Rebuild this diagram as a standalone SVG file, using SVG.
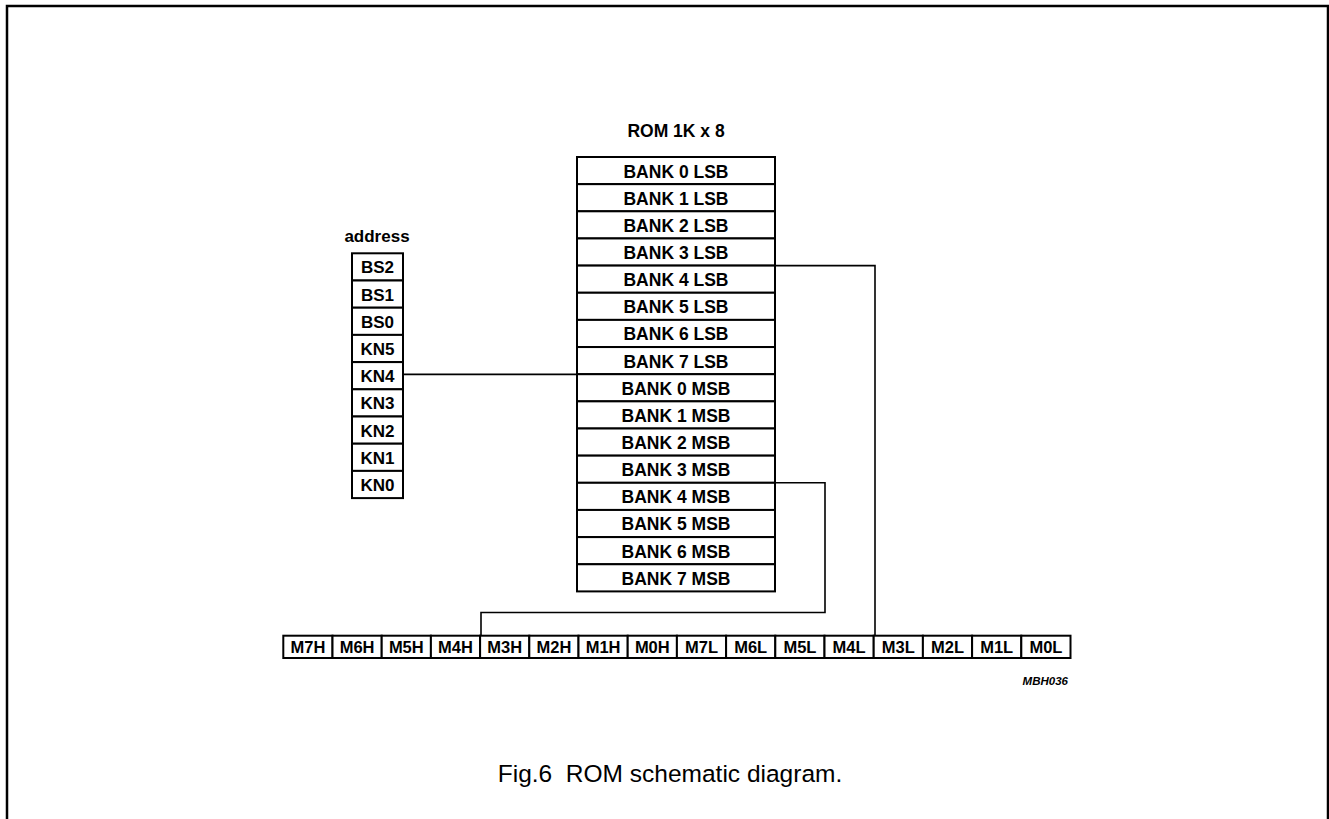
<svg xmlns="http://www.w3.org/2000/svg" width="1329" height="819" viewBox="0 0 1329 819">
<style>
.box{fill:#fff;stroke:#000;stroke-width:2}
.t{font-family:"Liberation Sans",Arial,sans-serif;font-weight:bold;fill:#000;text-anchor:middle}
.rom{font-size:17.5px}
.adr{font-size:17px}
.bit{font-size:16.5px}
.wire{fill:none;stroke:#000;stroke-width:1.6}
</style>
<rect x="7" y="6" width="1321" height="830" fill="#fff" stroke="#000" stroke-width="2.5"/>

<text class="t rom" x="676" y="137">ROM 1K x 8</text>
<g id="rom">
<g id="bank0lsb"><rect class="box" x="577" y="157" width="198" height="27.15"/><text class="t rom" x="676" y="177.5">BANK 0 LSB</text></g>
<g id="bank1lsb"><rect class="box" x="577" y="184.15" width="198" height="27.15"/><text class="t rom" x="676" y="204.65">BANK 1 LSB</text></g>
<g id="bank2lsb"><rect class="box" x="577" y="211.3" width="198" height="27.15"/><text class="t rom" x="676" y="231.8">BANK 2 LSB</text></g>
<g id="bank3lsb"><rect class="box" x="577" y="238.45" width="198" height="27.15"/><text class="t rom" x="676" y="258.95">BANK 3 LSB</text></g>
<g id="bank4lsb"><rect class="box" x="577" y="265.6" width="198" height="27.15"/><text class="t rom" x="676" y="286.1">BANK 4 LSB</text></g>
<g id="bank5lsb"><rect class="box" x="577" y="292.75" width="198" height="27.15"/><text class="t rom" x="676" y="313.25">BANK 5 LSB</text></g>
<g id="bank6lsb"><rect class="box" x="577" y="319.9" width="198" height="27.15"/><text class="t rom" x="676" y="340.4">BANK 6 LSB</text></g>
<g id="bank7lsb"><rect class="box" x="577" y="347.05" width="198" height="27.15"/><text class="t rom" x="676" y="367.55">BANK 7 LSB</text></g>
<g id="bank0msb"><rect class="box" x="577" y="374.2" width="198" height="27.15"/><text class="t rom" x="676" y="394.7">BANK 0 MSB</text></g>
<g id="bank1msb"><rect class="box" x="577" y="401.35" width="198" height="27.15"/><text class="t rom" x="676" y="421.85">BANK 1 MSB</text></g>
<g id="bank2msb"><rect class="box" x="577" y="428.5" width="198" height="27.15"/><text class="t rom" x="676" y="449">BANK 2 MSB</text></g>
<g id="bank3msb"><rect class="box" x="577" y="455.65" width="198" height="27.15"/><text class="t rom" x="676" y="476.15">BANK 3 MSB</text></g>
<g id="bank4msb"><rect class="box" x="577" y="482.8" width="198" height="27.15"/><text class="t rom" x="676" y="503.3">BANK 4 MSB</text></g>
<g id="bank5msb"><rect class="box" x="577" y="509.95" width="198" height="27.15"/><text class="t rom" x="676" y="530.45">BANK 5 MSB</text></g>
<g id="bank6msb"><rect class="box" x="577" y="537.1" width="198" height="27.15"/><text class="t rom" x="676" y="557.6">BANK 6 MSB</text></g>
<g id="bank7msb"><rect class="box" x="577" y="564.25" width="198" height="27.15"/><text class="t rom" x="676" y="584.75">BANK 7 MSB</text></g>
</g>

<text class="t adr" x="377" y="242">address</text>
<g id="address">
<g id="bs2"><rect class="box" x="352" y="253.3" width="51" height="27.2"/><text class="t adr" x="377.5" y="273.3">BS2</text></g>
<g id="bs1"><rect class="box" x="352" y="280.5" width="51" height="27.2"/><text class="t adr" x="377.5" y="300.5">BS1</text></g>
<g id="bs0"><rect class="box" x="352" y="307.7" width="51" height="27.2"/><text class="t adr" x="377.5" y="327.7">BS0</text></g>
<g id="kn5"><rect class="box" x="352" y="334.9" width="51" height="27.2"/><text class="t adr" x="377.5" y="354.9">KN5</text></g>
<g id="kn4"><rect class="box" x="352" y="362.1" width="51" height="27.2"/><text class="t adr" x="377.5" y="382.1">KN4</text></g>
<g id="kn3"><rect class="box" x="352" y="389.3" width="51" height="27.2"/><text class="t adr" x="377.5" y="409.3">KN3</text></g>
<g id="kn2"><rect class="box" x="352" y="416.5" width="51" height="27.2"/><text class="t adr" x="377.5" y="436.5">KN2</text></g>
<g id="kn1"><rect class="box" x="352" y="443.7" width="51" height="27.2"/><text class="t adr" x="377.5" y="463.7">KN1</text></g>
<g id="kn0"><rect class="box" x="352" y="470.9" width="51" height="27.2"/><text class="t adr" x="377.5" y="490.9">KN0</text></g>
</g>

<g id="output">
<g id="m7h"><rect class="box" x="283.3" y="635.7" width="49.2" height="22.3"/><text class="t bit" x="307.9" y="653">M7H</text></g>
<g id="m6h"><rect class="box" x="332.5" y="635.7" width="49.2" height="22.3"/><text class="t bit" x="357.1" y="653">M6H</text></g>
<g id="m5h"><rect class="box" x="381.7" y="635.7" width="49.2" height="22.3"/><text class="t bit" x="406.3" y="653">M5H</text></g>
<g id="m4h"><rect class="box" x="430.9" y="635.7" width="49.2" height="22.3"/><text class="t bit" x="455.5" y="653">M4H</text></g>
<g id="m3h"><rect class="box" x="480.1" y="635.7" width="49.2" height="22.3"/><text class="t bit" x="504.7" y="653">M3H</text></g>
<g id="m2h"><rect class="box" x="529.3" y="635.7" width="49.2" height="22.3"/><text class="t bit" x="553.9" y="653">M2H</text></g>
<g id="m1h"><rect class="box" x="578.5" y="635.7" width="49.2" height="22.3"/><text class="t bit" x="603.1" y="653">M1H</text></g>
<g id="m0h"><rect class="box" x="627.7" y="635.7" width="49.2" height="22.3"/><text class="t bit" x="652.3" y="653">M0H</text></g>
<g id="m7l"><rect class="box" x="676.9" y="635.7" width="49.2" height="22.3"/><text class="t bit" x="701.5" y="653">M7L</text></g>
<g id="m6l"><rect class="box" x="726.1" y="635.7" width="49.2" height="22.3"/><text class="t bit" x="750.7" y="653">M6L</text></g>
<g id="m5l"><rect class="box" x="775.3" y="635.7" width="49.2" height="22.3"/><text class="t bit" x="799.9" y="653">M5L</text></g>
<g id="m4l"><rect class="box" x="824.5" y="635.7" width="49.2" height="22.3"/><text class="t bit" x="849.1" y="653">M4L</text></g>
<g id="m3l"><rect class="box" x="873.7" y="635.7" width="49.2" height="22.3"/><text class="t bit" x="898.3" y="653">M3L</text></g>
<g id="m2l"><rect class="box" x="922.9" y="635.7" width="49.2" height="22.3"/><text class="t bit" x="947.5" y="653">M2L</text></g>
<g id="m1l"><rect class="box" x="972.1" y="635.7" width="49.2" height="22.3"/><text class="t bit" x="996.7" y="653">M1L</text></g>
<g id="m0l"><rect class="box" x="1021.3" y="635.7" width="49.2" height="22.3"/><text class="t bit" x="1045.9" y="653">M0L</text></g>
</g>

<g id="connectors">
<path class="wire" d="M403 374.4 H577"/>
<path class="wire" d="M775 265.6 H875 V635.7"/>
<path class="wire" d="M775 482.8 H825 V612.5 H481 V635.7"/>
</g>

<text x="1068" y="685" font-family="'Liberation Sans',Arial,sans-serif" font-weight="bold" font-style="italic" font-size="11.5" text-anchor="end">MBH036</text>
<text x="670" y="782" font-family="'Liberation Sans',Arial,sans-serif" font-size="24.5" text-anchor="middle" xml:space="preserve">Fig.6  ROM schematic diagram.</text>
</svg>
